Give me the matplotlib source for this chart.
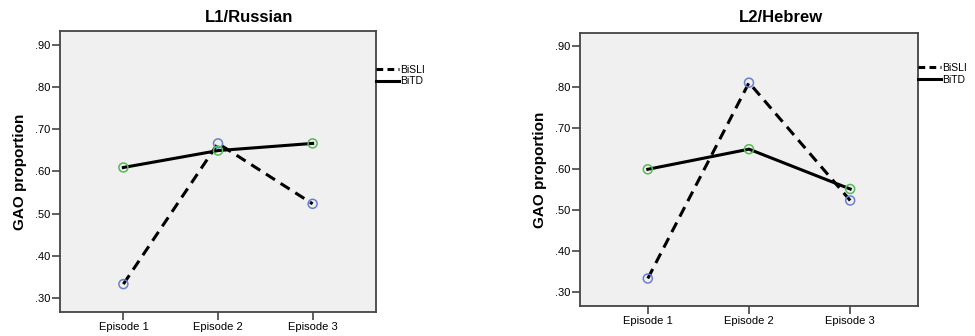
import matplotlib.pyplot as plt
from matplotlib.lines import Line2D

plt.rcParams['font.family'] = ['Liberation Sans', 'DejaVu Sans']

episodes = ["Episode 1", "Episode 2", "Episode 3"]
yticks = [0.30, 0.40, 0.50, 0.60, 0.70, 0.80, 0.90]

russian_bisli = [0.333, 0.666, 0.523]
russian_bitd = [0.609, 0.649, 0.666]
hebrew_bisli = [0.334, 0.811, 0.524]
hebrew_bitd = [0.600, 0.649, 0.552]

W, H = 975, 336
fig = plt.figure(figsize=(W / 100, H / 100), dpi=100)

# panel boxes in pixels: left, top, right, bottom
panels = [
    ("L1/Russian", russian_bisli, russian_bitd, (60, 31, 376, 312), 249),
    ("L2/Hebrew", hebrew_bisli, hebrew_bitd, (580, 33, 918, 306), 781),
]

frame_col = "#444444"
for title, bisli, bitd, (l, t, r, b), tx in panels:
    ax = fig.add_axes([l / W, 1 - b / H, (r - l) / W, (b - t) / H])
    ax.set_facecolor("#f0f0f0")
    x = [1, 2, 3]
    ax.plot(x, bisli, color="black", lw=2.2, ls=(0, (3.5, 2.2)), zorder=3)
    ax.plot(x, bitd, color="black", lw=2.2, zorder=3)
    ax.scatter(x, bisli, s=42, facecolors="none", edgecolors="#6b7fd0", lw=1.1, zorder=4)
    ax.scatter(x, bitd, s=42, facecolors="none", edgecolors="#55bb55", lw=1.1, zorder=4)
    ax.set_xlim(0.33, 3.67)
    ax.set_ylim(0.267, 0.932)
    ax.set_xticks(x)
    ax.set_xticklabels(episodes, fontsize=8)
    ax.set_yticks(yticks)
    ax.set_yticklabels([("%.2f" % v)[1:] for v in yticks], fontsize=8)
    ax.tick_params(length=6, width=1.2, color=frame_col, pad=1)
    for s in ax.spines.values():
        s.set_color(frame_col)
        s.set_linewidth(1.3)
    ax.set_ylabel("GAO proportion", fontsize=11, fontweight="bold", labelpad=6)
    fig.text(tx / W, 1 - 18 / H, title, ha="center", va="center",
             fontsize=12, fontweight="bold")
    # legend outside to the right
    ly1 = 0.7985 if title.startswith("L1") else 0.799
    leg = ax.legend(
        [Line2D([], [], color="black", lw=2.2, ls=(0, (2.2, 1.4))),
         Line2D([], [], color="black", lw=2.2)],
        ["BiSLI", "BiTD"], loc="upper left",
        bbox_to_anchor=(1.0, 0.88 if title.startswith("L1") else 0.89),
        frameon=False, fontsize=7.5, handlelength=2.2, handletextpad=0.1,
        borderaxespad=0, borderpad=0, labelspacing=0.15)

fig.savefig("out.png", dpi=100)
